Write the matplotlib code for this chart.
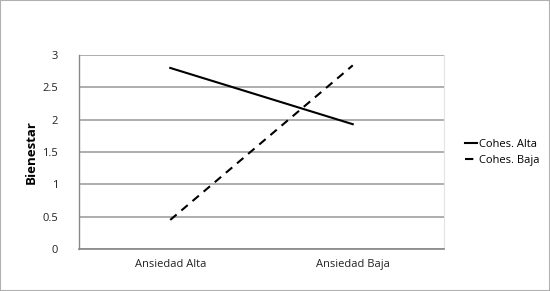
import matplotlib.pyplot as plt
from matplotlib.patches import Rectangle

# datos
categorias = ['Ansiedad Alta', 'Ansiedad Baja']
cohes_alta = [2.80, 1.93]
cohes_baja = [0.45, 2.84]
yticks = [0, 0.5, 1, 1.5, 2, 2.5, 3]
ytick_labels = ['0', '0.5', '1', '1.5', '2', '2.5', '3']

plt.rcParams['font.family'] = ['Open Sans', 'DejaVu Sans']

fig = plt.figure(figsize=(5.5, 2.91), dpi=100)
ax = fig.add_axes([0.1436, 0.1443, 0.8073 - 0.1436, 0.811 - 0.1443])

x = range(len(categorias))
ax.plot(x, cohes_alta, color='black', lw=1.5, label='Cohes. Alta')
ax.plot(x, cohes_baja, color='black', lw=1.5, ls=(0, (4, 3)), label='Cohes. Baja')

ax.set_xlim(-0.5, 1.5)
ax.set_ylim(0, 3)
ax.set_yticks(yticks)
ax.set_yticklabels(ytick_labels)
ax.set_xticks(list(x))
ax.set_xticklabels(categorias)
ax.tick_params(axis='both', length=0, labelsize=8, colors='#222222')
ax.tick_params(axis='y', pad=15)
ax.tick_params(axis='x', pad=7)
ax.yaxis.grid(True, color='#a0a0a0', lw=1.2)
ax.set_axisbelow(True)

ax.spines['right'].set_color('#e4e4e4')
ax.spines['right'].set_linewidth(0.8)
ax.spines['top'].set_visible(False)
ax.spines['left'].set_color('#888888')
ax.spines['bottom'].set_color('#888888')
ax.spines['left'].set_linewidth(1.0)
ax.spines['bottom'].set_linewidth(1.2)

ax.set_ylabel('Bienestar', fontsize=9.5, fontweight='bold')
ax.yaxis.set_label_coords(-0.113, 0.5)

leg = ax.legend(loc='center left', bbox_to_anchor=(1.03, 0.5), frameon=False,
                fontsize=8, handlelength=1.1, handletextpad=0.2, labelspacing=0.45)

# borde gris de la imagen
fig.patches.append(Rectangle((0, 0), 1, 1, transform=fig.transFigure,
                             fill=False, edgecolor='#b0b0b0', lw=1.5))

fig.savefig('out.png', dpi=100)
